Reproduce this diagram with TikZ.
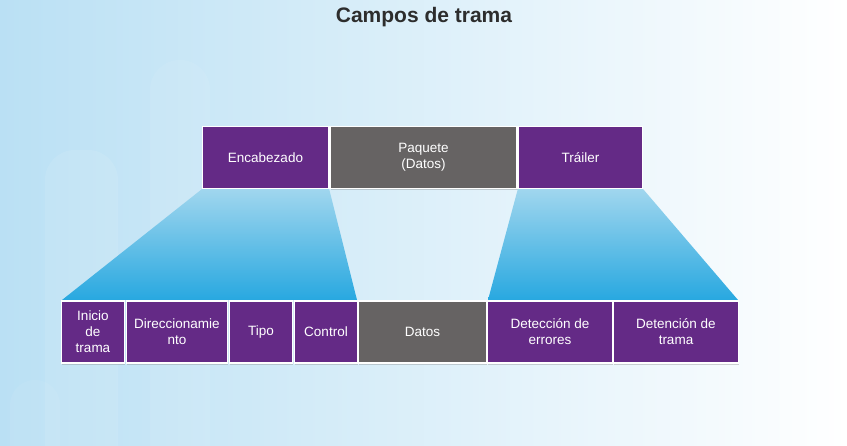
\documentclass[tikz,border=0pt]{standalone}
\usepackage{fontspec}
\setmainfont{Liberation Sans}
\usetikzlibrary{shadows}
\definecolor{campo}{RGB}{100,42,134}
\definecolor{datos}{RGB}{102,99,99}
\definecolor{fondo}{RGB}{186,224,244}
\definecolor{conoA}{RGB}{160,214,238}
\definecolor{conoB}{RGB}{40,168,224}
\definecolor{titulo}{RGB}{45,45,45}
\tikzset{
  campobox/.style={draw=white, line width=1.4pt, fill=campo, text=white, align=center,
    font=\fontsize{13.5}{16}\selectfont, inner sep=1pt,
    drop shadow={shadow xshift=0.6pt, shadow yshift=-1.6pt, opacity=0.35}},
  datobox/.style={campobox, fill=datos},
}
\begin{document}
\begin{tikzpicture}[x=1pt, y=1pt]
    \useasboundingbox (0,0) rectangle (847,-446);
    % fondo
    \shade[left color=fondo, right color=white] (0,0) rectangle (847,-446);
    \begin{scope}
    \clip (0,0) rectangle (847,-446);
    \fill[white, opacity=0.09, rounded corners=30pt] (45,-150) rectangle (118,-500);
    \fill[white, opacity=0.07, rounded corners=30pt] (150,-60) rectangle (210,-500);
    \fill[white, opacity=0.06, rounded corners=25pt] (10,-380) rectangle (60,-500);
    \end{scope}
    \node (titulo) at (424,-17){\fontsize{21}{24}\selectfont\bfseries\color{titulo}Campos de trama};
% trama
\node (enc) at (265.5,-157.5)[campobox, minimum width=126, minimum height=62]{Encabezado};
\node (paq) at (423.5,-157.5)[datobox, minimum width=187, minimum height=62]{Paquete\\(Datos)};
\node (tra) at (580.5,-157.5)[campobox, minimum width=124, minimum height=62]{Tráiler};
% conos
\shade[top color=conoA, bottom color=conoB] (enc.south west)--(enc.south east)--(357,-300)--(62,-300)--cycle;
\shade[top color=conoA, bottom color=conoB] (tra.south west)--(tra.south east)--(738,-300)--(488,-300)--cycle;
% campos
\node (ini) at (93,-332)[campobox, minimum width=63, minimum height=62, text width=50]{Inicio\\de\\trama};
\node (dir) at (177,-332)[campobox, minimum width=101, minimum height=62]{Direccionamie\\nto};
\node (tip) at (261,-332)[campobox, minimum width=63, minimum height=62]{Tipo};
\node (ctl) at (326,-332)[campobox, minimum width=63, minimum height=62]{Control};
\node (dat) at (422.5,-332)[datobox, minimum width=128, minimum height=62]{Datos};
\node (det) at (550,-332)[campobox, minimum width=125, minimum height=62]{Detección de\\errores};
\node (fin) at (676,-332)[campobox, minimum width=125, minimum height=62]{Detención de\\trama};
\end{tikzpicture}
\end{document}
